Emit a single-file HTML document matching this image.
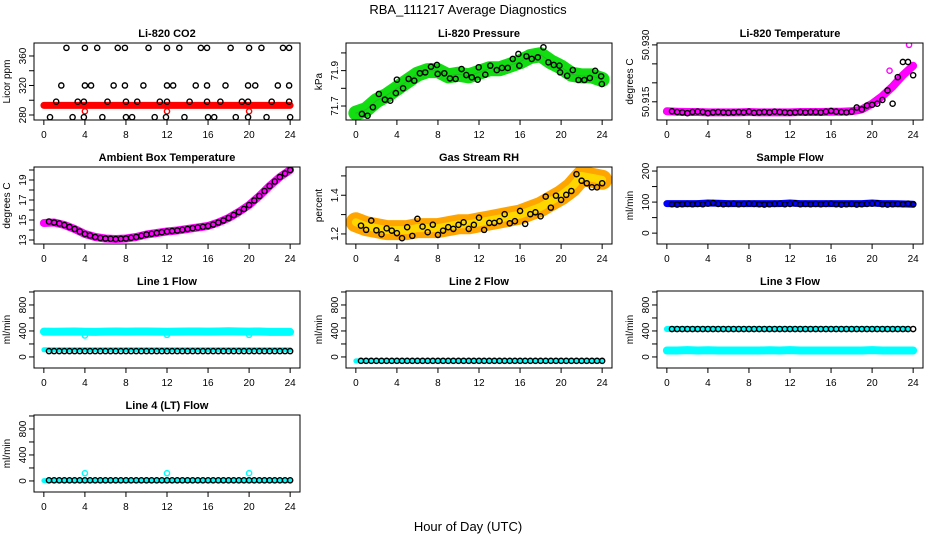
<!DOCTYPE html>
<html><head><meta charset="utf-8"><style>
body{margin:0;background:#fff;}
svg{display:block;font-family:"Liberation Sans",Arial,sans-serif;}
</style></head><body>
<svg id="chart" width="936" height="540" viewBox="0 0 936 540" xmlns="http://www.w3.org/2000/svg">
<rect width="936" height="540" fill="#fff"/>
<text x="468" y="14" text-anchor="middle" font-size="13">RBA_111217  Average Diagnostics</text>
<text x="468" y="531" text-anchor="middle" font-size="13">Hour of Day (UTC)</text>
</svg>
<script>
// ---------- data ----------
const xTicks = [0,4,8,12,16,20,24];
const halfHours = [0.5,1,1.5,2,2.5,3,3.5,4,4.5,5,5.5,6,6.5,7,7.5,8,8.5,9,9.5,10,10.5,11,11.5,12,12.5,13,13.5,14,14.5,15,15.5,16,16.5,17,17.5,18,18.5,19,19.5,20,20.5,21,21.5,22,22.5,23,23.5,24];
const hours = [0,1,2,3,4,5,6,7,8,9,10,11,12,13,14,15,16,17,18,19,20,21,22,23,24];

// CO2
const co2Hours = [2.2,4.0,5.2,7.2,7.9,10.2,12.0,13.2,15.3,15.9,18.2,20.0,21.2,23.3,23.9, 1.7,4.0,4.6,6.8,7.9,9.7,12.0,12.6,14.8,15.9,17.7,19.9,20.6,22.8,23.9, 1.2,3.3,3.9,6.2,8.0,9.1,11.3,12.0,14.2,15.9,17.2,19.3,19.9,22.2,23.9, 0.6,2.8,3.9,5.7,8.0,8.6,10.8,11.9,13.7,16.0,16.6,18.7,19.9,21.7,24.0];
const co2Vals = [371,371,371,371,371,371,371,371,371,371,371,371,371,371,371, 320,320,320,320,320,320,320,320,320,320,320,320,320,320,320, 298,298,298,298,298,298,298,298,298,298,298,298,298,298,298, 277,277,277,277,277,277,277,277,277,277,277,277,277,277,277];
const co2BandHours = [0,24];
const co2BandVals = [293,293];
const co2RedHours = [4.0,12.0,20.0];
const co2RedVals = [285,285,285];

// Pressure
const presHours = [0.59,1.14,1.66,2.24,2.83,3.35,3.9,4.0,4.6,5.14,5.69,6.24,6.76,7.32,7.9,7.97,8.62,9.17,9.72,10.3,10.76,11.3,11.87,11.97,12.61,13.1,13.73,14.24,14.8,15.29,15.84,15.93,16.62,17.14,17.73,18.28,18.76,19.29,19.83,19.9,20.59,21.14,21.69,22.27,22.8,23.32,23.9,23.97];
const presVals = [71.655,71.645,71.693,71.768,71.736,71.730,71.773,71.849,71.800,71.853,71.843,71.885,71.890,71.922,71.932,71.881,71.885,71.856,71.853,71.909,71.875,71.862,71.849,71.919,71.877,71.928,71.903,71.915,71.915,71.966,71.994,71.928,71.981,71.966,71.975,72.032,71.947,71.932,71.928,71.890,71.871,71.903,71.847,71.847,71.858,71.899,71.868,71.824];
const presBand = [71.66,71.68,71.73,71.76,71.80,71.84,71.88,71.90,71.90,71.87,71.88,71.87,71.89,71.91,71.91,71.93,71.95,71.98,71.99,71.95,71.92,71.88,71.87,71.87,71.85];

// Li-820 temperature
const tempBlack = [50.9125,50.9123,50.9122,50.912,50.9123,50.9124,50.9123,50.912,50.9122,50.9123,50.9122,50.9121,50.9122,50.9123,50.9122,50.9124,50.9121,50.9122,50.9123,50.9122,50.9124,50.9123,50.9122,50.9121,50.9122,50.9123,50.9122,50.9123,50.9123,50.9122,50.9124,50.9126,50.9124,50.9123,50.9122,50.9124,50.9135,50.913,50.914,50.9142,50.9145,50.9155,50.918,50.9145,50.9215,50.9255,50.9255,50.922];
const tempBand = [50.9125,50.9124,50.9123,50.9123,50.9122,50.9122,50.9122,50.9122,50.9123,50.9122,50.9122,50.9122,50.9122,50.9123,50.9123,50.9123,50.9124,50.9124,50.9125,50.9130,50.9145,50.9165,50.9190,50.9220,50.9245];
const tempOutHours = [21.7,23.6];
const tempOutVals = [50.9232,50.930];

// Ambient box temperature
const ambBand = [14.7,14.75,14.5,14.1,13.6,13.3,13.15,13.1,13.15,13.3,13.55,13.7,13.85,13.95,14.1,14.25,14.4,14.75,15.2,15.8,16.5,17.4,18.4,19.3,20.0];
const ambBlack = [14.85,14.75,14.65,14.5,14.3,14.1,13.85,13.6,13.45,13.3,13.2,13.15,13.12,13.1,13.12,13.15,13.22,13.3,13.42,13.55,13.62,13.7,13.78,13.85,13.9,13.95,14.02,14.1,14.18,14.25,14.32,14.4,14.55,14.75,14.95,15.2,15.5,15.8,16.1,16.5,16.95,17.4,17.9,18.4,18.85,19.3,19.65,20.0];

// Gas stream RH
const rhVals = [1.243,1.221,1.269,1.219,1.198,1.229,1.217,1.204,1.178,1.235,1.190,1.278,1.238,1.209,1.248,1.195,1.217,1.235,1.226,1.247,1.260,1.226,1.247,1.284,1.221,1.257,1.257,1.266,1.302,1.255,1.266,1.319,1.252,1.302,1.312,1.291,1.393,1.336,1.398,1.376,1.402,1.422,1.509,1.475,1.462,1.441,1.441,1.462];
const rhBand = [1.26,1.24,1.23,1.22,1.22,1.22,1.23,1.23,1.23,1.24,1.25,1.25,1.26,1.27,1.28,1.29,1.30,1.32,1.34,1.37,1.40,1.44,1.50,1.49,1.48];

// Sample flow
const sampleBlack = [93,92,93,94,93,94,93,95,97,94,93,94,95,93,94,95,94,93,92,93,94,95,93,94,96,93,94,93,94,93,94,95,93,92,93,94,92,93,94,95,96,93,92,93,94,93,95,93];
const sampleBand = [95,95,95,95,97,96,95,95,95,95,95,95,97,95,95,95,95,95,95,95,97,95,95,94,93];

// Line flows
const line1Black = [90,90,90,90,90,90,90,90,90,90,90,90,90,90,90,90,90,90,90,90,90,90,90,90,90,90,90,90,90,90,90,90,90,90,90,90,90,90,90,90,90,90,90,90,90,90,90,90];
const line1High = [390,388,390,392,388,385,390,392,390,392,392,390,388,390,392,392,390,392,395,392,390,392,385,385,385];
const line1Low = [110,110,110,110,110,110,110,110,110,110,110,110,110,110,110,110,110,110,110,110,110,110,110,110,110];
const line1OutHours = [4,12,20];
const line1OutVals = [330,340,340];
const line2Black = [-60,-60,-60,-60,-60,-60,-60,-60,-60,-60,-60,-60,-60,-60,-60,-60,-60,-60,-60,-60,-60,-60,-60,-60,-60,-60,-60,-60,-60,-60,-60,-60,-60,-60,-60,-60,-60,-60,-60,-60,-60,-60,-60,-60,-60,-60,-60,-60];
const line3Black = [430,430,430,430,430,430,430,430,430,430,430,430,430,430,430,430,430,430,430,430,430,430,430,430,430,430,430,430,430,430,430,430,430,430,430,430,430,430,430,430,430,430,430,430,430,430,430,430];
const line3Low = [100,100,105,100,102,100,100,100,100,100,102,100,105,100,100,100,100,100,100,100,105,100,100,100,100];
const line4Black = [10,10,10,10,10,10,10,10,10,10,10,10,10,10,10,10,10,10,10,10,10,10,10,10,10,10,10,10,10,10,10,10,10,10,10,10,10,10,10,10,10,10,10,10,10,10,10,10];
const line4OutHours = [4,12,20];
const line4OutVals = [120,120,120];

// ---------- drawing ----------
const NS = "http://www.w3.org/2000/svg";
const svg = document.getElementById('chart');
const COLS = [34,346,657], ROWS = [43,167,291,415], BW = 266, BH = 77;
const XMIN = -0.96, XMAX = 24.96;

function mk(tag, attrs, parent){
  const e = document.createElementNS(NS, tag);
  for (const k in attrs) e.setAttribute(k, attrs[k]);
  (parent||svg).appendChild(e);
  return e;
}

function makePanel(name, title, ylab, col, row, ymin, ymax, ticks, labels){
  const g = mk('g', {});
  
  
  const L = COLS[col], T = ROWS[row];
  const p = {
    g: g,
    x: h => L + (h - XMIN) / (XMAX - XMIN) * BW,
    y: v => T + BH - (v - ymin) / (ymax - ymin) * BH
  };
  const t = mk('text', {x: L + BW/2, y: T - 6, 'text-anchor':'middle', 'font-size':'11', 'font-weight':'bold'}, g);
  t.textContent = title;
  
  
  const yl = mk('text', {x: 0, y: 0, 'text-anchor':'middle', 'font-size':'10', transform:`translate(${L-24},${T+BH/2}) rotate(-90)`}, g);
  yl.textContent = ylab;
  
  
  // x axis
  const xa = mk('g', {}, g);
  
  
  mk('line', {x1:p.x(xTicks[0]), x2:p.x(xTicks[xTicks.length-1]), y1:T+BH, y2:T+BH, stroke:'#000'}, xa);
  xTicks.forEach(h => {
    mk('line', {x1:p.x(h), x2:p.x(h), y1:T+BH, y2:T+BH+5, stroke:'#000'}, xa);
    const tl = mk('text', {x:p.x(h), y:T+BH+18, 'text-anchor':'middle', 'font-size':'10'}, xa);
    tl.textContent = String(h);
  });
  // y axis
  const ya = mk('g', {}, g);
  
  
  ticks.forEach((v, i) => {
    mk('line', {x1:L-5, x2:L, y1:p.y(v), y2:p.y(v), stroke:'#000'}, ya);
    if (labels[i]) {
      const tl = mk('text', {x:0, y:0, 'text-anchor':'middle', 'font-size':'10', transform:`translate(${L-8},${p.y(v)}) rotate(-90)`}, ya);
      tl.textContent = labels[i];
    }
  });
  p.L = L; p.T = T;
  p.finish = () => {
    const b = mk('rect', {x:L, y:T, width:BW, height:BH, fill:'none', stroke:'#000', 'stroke-width':1}, g);
    
    
  };
  // clip
  const cid = 'clip-' + name;
  const cp = mk('clipPath', {id: cid}, g);
  mk('rect', {x:L, y:T, width:BW, height:BH}, cp);
  p.data = mk('g', {'clip-path': `url(#${cid})`}, g);
  return p;
}

function band(p, xs, ys, color, w, name){
  const pts = xs.map((h,i) => p.x(h).toFixed(1) + ',' + p.y(ys[i]).toFixed(1)).join(' ');
  const e = mk('polyline', {points: pts, fill:'none', stroke:color, 'stroke-width':w, 'stroke-linecap':'round', 'stroke-linejoin':'round'}, p.data);
  
  
  return e;
}
function pts(p, xs, ys, color, name, r, sw){
  const g = mk('g', {}, p.data);
  
  
  xs.forEach((h,i) => {
    const c = mk('circle', {cx:p.x(h), cy:p.y(ys[i]), r:r||2.6, fill:'none', stroke:color, 'stroke-width':sw||1.4}, g);
    
    
  });
}

// Panel 1: CO2
let p = makePanel('co2', 'Li-820 CO2', 'Licor ppm', 0, 0, 273.2, 377.6, [280,300,320,340,360], ['280','','320','','360']);
band(p, co2BandHours, co2BandVals, '#ff0000', 7, 'co2-red-band');
pts(p, co2RedHours, co2RedVals, '#ff0000', 'co2-red-outliers');
pts(p, co2Hours, co2Vals, '#000', 'co2-black-series');
p.finish();

// Panel 2: Pressure
p = makePanel('pressure', 'Li-820 Pressure', 'kPa', 1, 0, 71.621, 72.056, [71.7,71.8,71.9,72.0], ['71.7','','71.9','']);
band(p, hours, presBand, '#11dd11', 15, 'pressure-green-band');
band(p, hours, presBand, '#22bb22', 1, 'pressure-green-core');
pts(p, presHours, presVals, '#000', 'pressure-black-series');
p.finish();

// Panel 3: Li-820 Temperature
p = makePanel('li820-temp', 'Li-820 Temperature', 'degrees C', 2, 0, 50.9102, 50.9305, [50.915,50.920,50.925,50.930], ['50.915','','','50.930']);
band(p, hours, tempBand, '#ff00ff', 8, 'temp-magenta-band');
pts(p, tempOutHours, tempOutVals, '#ff00ff', 'temp-magenta-outliers');
pts(p, halfHours, tempBlack, '#000', 'temp-black-series');
p.finish();

// Panel 4: Ambient box temperature
p = makePanel('ambient-temp', 'Ambient Box Temperature', 'degrees C', 0, 1, 12.6, 20.3, [13,14,15,16,17,18,19,20], ['13','','15','','17','','19','']);
band(p, hours, ambBand, '#ff00ff', 8, 'ambient-magenta-band');
pts(p, halfHours, ambBlack, '#000', 'ambient-black-series');
p.finish();

// Panel 5: Gas stream RH
p = makePanel('gas-rh', 'Gas Stream RH', 'percent', 1, 1, 1.148, 1.546, [1.2,1.3,1.4,1.5], ['1.2','','1.4','']);
band(p, hours, rhBand, '#ffa500', 20, 'rh-orange-band');
band(p, hours, rhBand, '#ffd700', 8, 'rh-yellow-band');
pts(p, halfHours, rhVals, '#000', 'rh-black-series');
p.finish();

// Panel 6: Sample flow
p = makePanel('sample-flow', 'Sample Flow', 'ml/min', 2, 1, -35, 213, [0,50,100,150,200], ['0','','100','','200']);
band(p, hours, sampleBand, '#0000ff', 7, 'sample-blue-band');
pts(p, halfHours, sampleBlack, '#000', 'sample-black-series');
p.finish();

// Panel 7: Line 1 flow
const flowTicks = [0,200,400,600,800,1000], flowLabels = ['0','','400','','800',''];
p = makePanel('line1-flow', 'Line 1 Flow', 'ml/min', 0, 2, -170, 1015, flowTicks, flowLabels);
band(p, hours, line1High, '#00ffff', 8, 'line1-cyan-high-band');
band(p, hours, line1Low, '#00ffff', 5, 'line1-cyan-low-band');
pts(p, line1OutHours, line1OutVals, '#00ffff', 'line1-cyan-outliers');
pts(p, halfHours, line1Black, '#000', 'line1-black-series');
p.finish();

// Panel 8: Line 2 flow
p = makePanel('line2-flow', 'Line 2 Flow', 'ml/min', 1, 2, -170, 1015, flowTicks, flowLabels);
band(p, [0,24], [-60,-60], '#00ffff', 5, 'line2-cyan-band');
pts(p, halfHours, line2Black, '#000', 'line2-black-series');
p.finish();

// Panel 9: Line 3 flow
p = makePanel('line3-flow', 'Line 3 Flow', 'ml/min', 2, 2, -170, 1015, flowTicks, flowLabels);
band(p, hours, line3Low, '#00ffff', 8, 'line3-cyan-low-band');
band(p, [0,23.5], [430,430], '#00ffff', 6, 'line3-cyan-high-band');
pts(p, halfHours, line3Black, '#000', 'line3-black-series');
p.finish();

// Panel 10: Line 4 flow
p = makePanel('line4-flow', 'Line 4 (LT) Flow', 'ml/min', 0, 3, -170, 1015, flowTicks, flowLabels);
band(p, [0,24], [5,5], '#00ffff', 5, 'line4-cyan-band');
pts(p, line4OutHours, line4OutVals, '#00ffff', 'line4-cyan-outliers');
pts(p, halfHours, line4Black, '#000', 'line4-black-series');
p.finish();
</script>
</body></html>
